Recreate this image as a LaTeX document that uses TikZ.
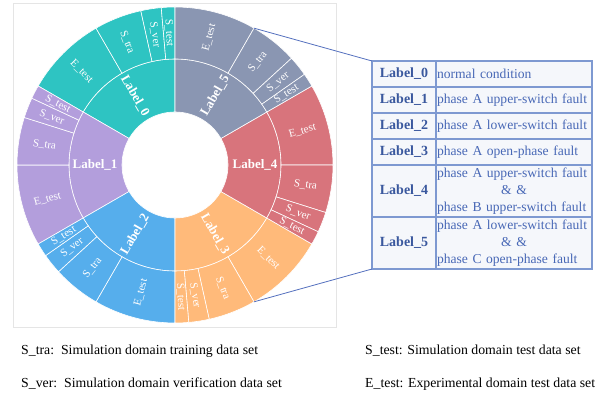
\documentclass[tikz,border=0pt]{standalone}
\usepackage{fontspec}
\setmainfont{Liberation Serif}
\usetikzlibrary{positioning}

\definecolor{lab0}{RGB}{46,196,194}
\definecolor{lab1}{RGB}{179,158,220}
\definecolor{lab2}{RGB}{86,174,236}
\definecolor{lab3}{RGB}{255,186,122}
\definecolor{lab4}{RGB}{216,116,124}
\definecolor{lab5}{RGB}{138,150,178}
\definecolor{tabline}{RGB}{126,153,209}
\definecolor{tabfill}{RGB}{245,247,251}
\definecolor{tabhead}{RGB}{58,88,158}
\definecolor{tabtext}{RGB}{72,104,182}
\definecolor{zoomline}{RGB}{84,112,190}

\begin{document}
\begin{tikzpicture}[
    x=1pt, y=1pt,
    wedge/.style={draw=white, line width=0.6pt},
    labtext/.style={
        text=white, inner sep=0pt,
        font=\bfseries\fontsize{13}{13}\selectfont
    },
    ringtext/.style={
        text=white, inner sep=0pt,
        font=\fontsize{11}{11}\selectfont
    },
    headcell/.style={
        draw=tabline, line width=1.2pt, fill=tabfill, outer sep=0pt,
        minimum width=64pt, inner sep=0pt,
        text=tabhead, font=\bfseries\fontsize{14}{17}\selectfont
    },
    desccell/.style={
        draw=tabline, line width=1.2pt, fill=tabfill, outer sep=0pt,
        text width=154pt, inner xsep=1pt, inner ysep=0pt,
        align=left, text=tabtext, font=\fontsize{13.6}{17}\selectfont
    },
    legend/.style={anchor=west, inner sep=0pt, font=\fontsize{13.8}{17}\selectfont}
]
\useasboundingbox (0,0) rectangle (615,396);
\draw[gray!20] (13,69) rectangle (336,393);

% sunburst
\begin{scope}[shift={(175,231)}]
\foreach \k/\col in {0/lab0,1/lab1,2/lab2,3/lab3,4/lab4,5/lab5} {
    \pgfmathsetmacro\s{60*\k-210}
    \pgfmathsetmacro\m{mod(\s-30+720,360)}
    \pgfmathsetmacro\rot{ifthenelse(and(\m>90,\m<270),\m-180,\m)}
    \filldraw[wedge, fill=\col] (\s:53) arc[start angle=\s, end angle=\s-60, radius=53]
        -- (\s-60:106) arc[start angle=\s-60, end angle=\s, radius=106] -- cycle;
    \node[labtext, rotate=\rot] (lab\k) at (\m:80) {Label\_\k};
    \foreach \a/\b/\name [count=\j] in {0/30/E\_test, 30/47.5/S\_tra, 47.5/55/S\_ver, 55/60/S\_test} {
        \pgfmathsetmacro\mm{mod(\s-(\a+\b)/2+720,360)}
        \pgfmathsetmacro\rr{ifthenelse(and(\mm>90,\mm<270),\mm-180,\mm)}
        \filldraw[wedge, fill=\col] (\s-\a:106) arc[start angle=\s-\a, end angle=\s-\b, radius=106]
            -- (\s-\b:158) arc[start angle=\s-\b, end angle=\s-\a, radius=158] -- cycle;
        \node[ringtext, rotate=\rr] (seg\k-\j) at (\mm:132) {\name};
    }
}
\coordinate (zoomtop) at (60:158);
\coordinate (zoombot) at (-60:158);
\end{scope}

% table
\node[headcell, minimum height=26pt, anchor=north west] (h0) at (372,335) {Label\_0};
\node[desccell, minimum height=26pt, right=0pt of h0] (d0) {normal condition};
\node[headcell, minimum height=26pt, below=0pt of h0] (h1) {Label\_1};
\node[desccell, minimum height=26pt, right=0pt of h1] (d1) {phase A upper-switch fault};
\node[headcell, minimum height=26pt, below=0pt of h1] (h2) {Label\_2};
\node[desccell, minimum height=26pt, right=0pt of h2] (d2) {phase A lower-switch fault};
\node[headcell, minimum height=26pt, below=0pt of h2] (h3) {Label\_3};
\node[desccell, minimum height=26pt, right=0pt of h3] (d3) {phase A open-phase fault};
\node[headcell, minimum height=52pt, below=0pt of h3] (h4) {Label\_4};
\node[desccell, minimum height=52pt, right=0pt of h4] (d4) {phase A upper-switch fault\\
    \makebox[\hsize]{\& \&}\\ phase B upper-switch fault};
\node[headcell, minimum height=52pt, below=0pt of h4] (h5) {Label\_5};
\node[desccell, minimum height=52pt, right=0pt of h5] (d5) {phase A lower-switch fault\\
    \makebox[\hsize]{\& \&}\\ phase C open-phase fault};

\draw[zoomline, line width=0.8pt] (zoomtop) -- (h0.north west);
\draw[zoomline, line width=0.8pt] (zoombot) -- (h5.south west);

% legend
\node[legend] (ltra) at (21,45) {S\_tra:\ \ Simulation domain training data set};
\node[legend] (lver) at (21,12) {S\_ver:\ \ Simulation domain verification data set};
\node[legend] (ltest) at (365,45) {S\_test: Simulation domain test data set};
\node[legend] (letest) at (365,12) {E\_test: Experimental domain test data set};
\end{tikzpicture}
\end{document}
